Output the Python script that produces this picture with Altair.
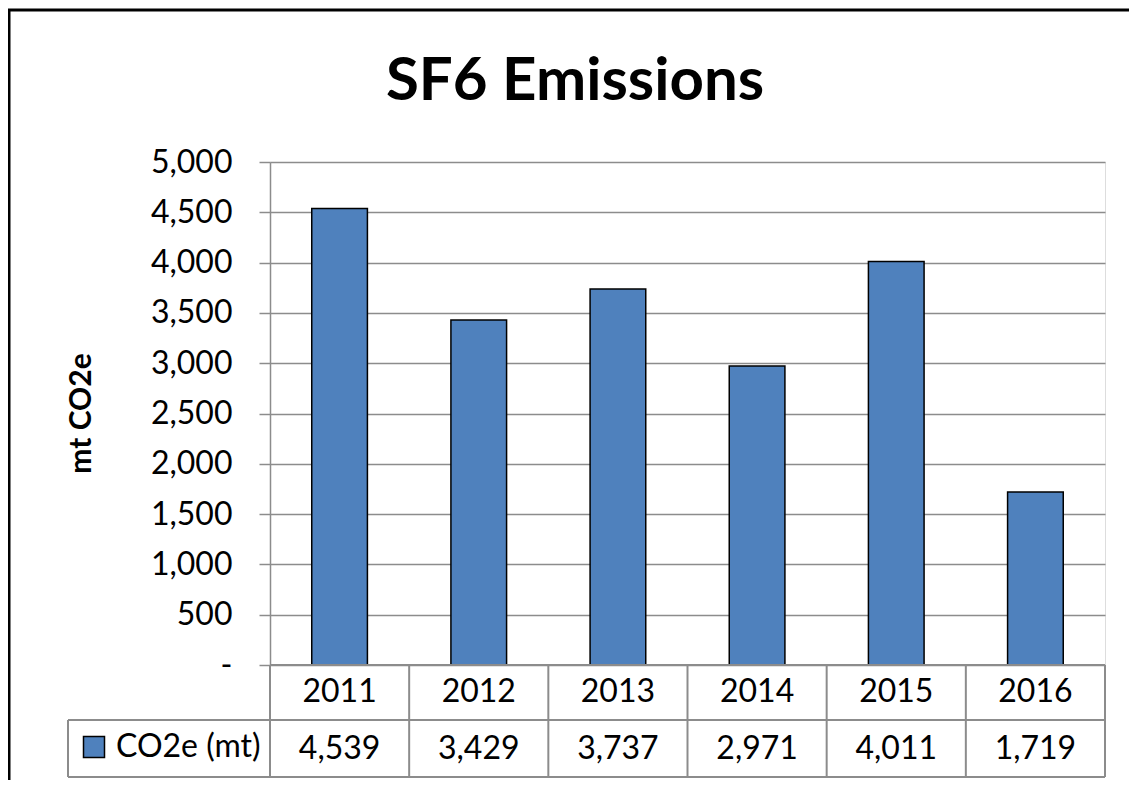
import altair as alt
import pandas as pd

title_text = "SF6 Emissions"
years = ["2011", "2012", "2013", "2014", "2015", "2016"]
values = [4539, 3429, 3737, 2971, 4011, 1719]
series_name = "CO2e (mt)"
y_ticks = [0, 500, 1000, 1500, 2000, 2500, 3000, 3500, 4000, 4500, 5000]

W, H = 835, 503
ROW = 55
FONT = "Lato"
LINE = "#8c8c8c"
BAR = "#4F81BD"

df = pd.DataFrame({"year": years, "value": values, "series": [series_name] * len(years)})
one = pd.DataFrame({"title": [title_text]})

xscale = alt.Scale(paddingInner=0, paddingOuter=0)
x_center = alt.X("year:N", sort=years, axis=None, scale=xscale)
x_edge = alt.X("year:N", sort=years, axis=None, scale=xscale, bandPosition=0)

base = alt.Chart(df)

frame = alt.Chart(one).mark_rect(fillOpacity=0, stroke="black", strokeWidth=3).encode(
    x=alt.value(-261), x2=alt.value(W + 200), y=alt.value(-152), y2=alt.value(H + 300)
)

title = alt.Chart(one).mark_text(
    font=FONT, fontSize=60, fontWeight="bold", color="black", align="center", baseline="alphabetic"
).encode(x=alt.value(305), y=alt.value(-62), text="title:N")

bars = base.mark_bar(width=alt.RelativeBandSize(0.4), stroke="black", strokeWidth=1.5).encode(
    x=x_center,
    y=alt.Y(
        "value:Q",
        scale=alt.Scale(domain=[0, 5000], nice=False),
        axis=alt.Axis(
            values=y_ticks,
            labelExpr="datum.value == 0 ? '-\u00a0\u00a0' : format(datum.value, ',')",
            grid=True, gridColor=LINE, gridWidth=1.5,
            domain=True, domainColor=LINE, domainWidth=1.5,
            ticks=True, tickColor=LINE, tickSize=11, tickWidth=1.5,
            labelFont=FONT, labelFontSize=32, labelColor="black", labelPadding=27,
            title="mt CO2e", titleFont=FONT, titleFontSize=30, titleFontWeight="bold",
            titleColor="black", titleX=-189, titleY=251, titleAngle=270,
            titleAlign="center", titleBaseline="middle",
        ),
    ),
    fill=alt.Fill(
        "series:N",
        scale=alt.Scale(domain=[series_name], range=[BAR]),
        legend=alt.Legend(
            title=None, orient="none", legendX=-192, legendY=H + ROW + 11,
            symbolType="square", symbolSize=441, symbolStrokeColor="black",
            symbolStrokeWidth=1.5, labelFont=FONT, labelFontSize=32,
            labelColor="black", labelOffset=6, padding=0,
        ),
    ),
)

header = base.mark_text(font=FONT, fontSize=32, color="black", baseline="middle").encode(
    x=x_center, y=alt.value(H + 27), text="year:N"
)
vals = base.mark_text(font=FONT, fontSize=32, color="black", baseline="middle").encode(
    x=x_center, y=alt.value(H + ROW + 29), text=alt.Text("value:Q", format=",")
)

vlines = base.mark_rule(color=LINE, strokeWidth=2).encode(
    x=x_edge, y=alt.value(H), y2=alt.value(H + 2 * ROW + 2)
)
vright = alt.Chart(one).mark_rule(color=LINE, strokeWidth=2).encode(
    x=alt.value(W), y=alt.value(H), y2=alt.value(H + 2 * ROW + 2)
)
vleft = alt.Chart(one).mark_rule(color=LINE, strokeWidth=2).encode(
    x=alt.value(-202), y=alt.value(H + ROW), y2=alt.value(H + 2 * ROW + 2)
)
htop = alt.Chart(one).mark_rule(color=LINE, strokeWidth=2).encode(
    x=alt.value(0), x2=alt.value(W), y=alt.value(H)
)
hmid = alt.Chart(one).mark_rule(color=LINE, strokeWidth=2).encode(
    x=alt.value(-202), x2=alt.value(W), y=alt.value(H + ROW)
)
hbot = alt.Chart(one).mark_rule(color=LINE, strokeWidth=2).encode(
    x=alt.value(-202), x2=alt.value(W), y=alt.value(H + 2 * ROW + 2)
)

chart = alt.layer(
    frame, title, bars, vlines, vright, vleft, htop, hmid, hbot, header, vals
).properties(
    width=W,
    height=H,
    autosize=alt.AutoSizeParams(type="none"),
    padding={"left": 262, "top": 154, "right": 24, "bottom": 115},
).configure_view(stroke=None).configure(background="white")

chart.save("out.html", embed_options={"renderer": "svg", "actions": False})
